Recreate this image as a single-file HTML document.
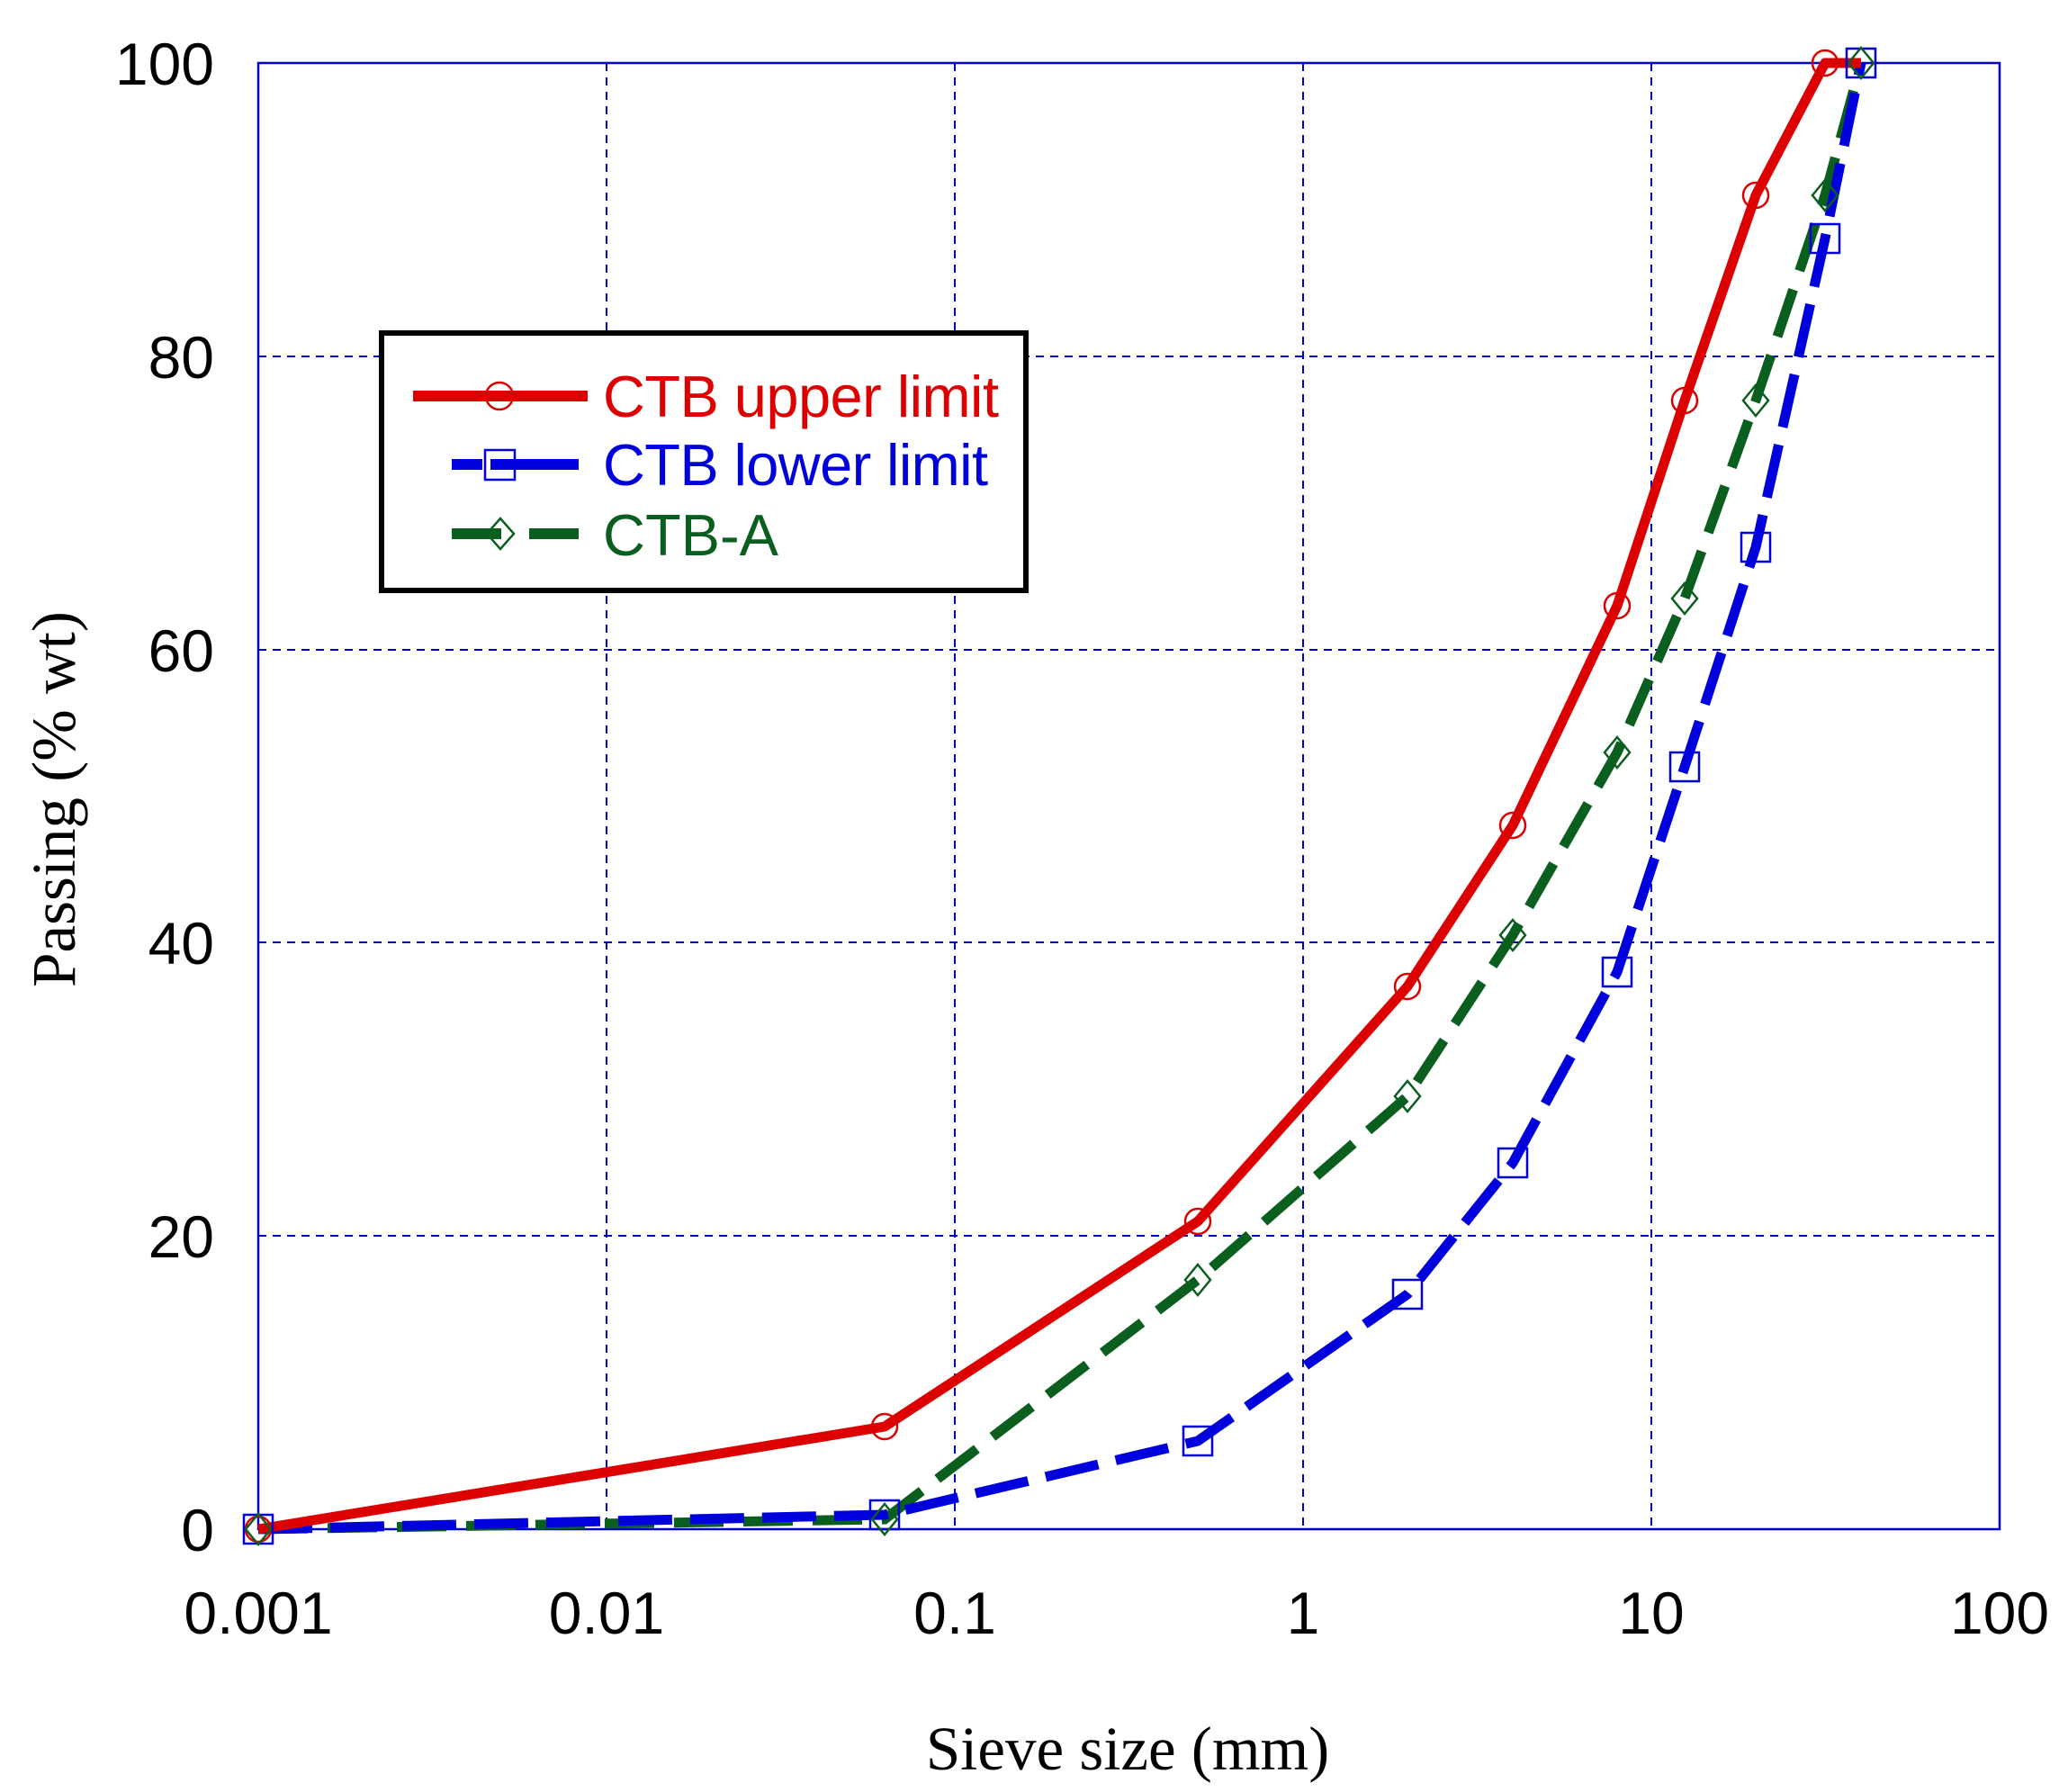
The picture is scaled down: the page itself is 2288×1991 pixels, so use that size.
<!DOCTYPE html>
<html><head><meta charset="utf-8"><style>
html,body{margin:0;padding:0;background:#fff;}
svg{display:block;}
</style></head><body>
<svg width="2288" height="1991" viewBox="0 0 2288 1991" xmlns="http://www.w3.org/2000/svg">
<rect width="2288" height="1991" fill="#fff"/>
<!-- grid -->
<g stroke="#0000cc" stroke-width="2" stroke-dasharray="9,7" fill="none">
<line x1="674" y1="70" x2="674" y2="1699"/>
<line x1="1061" y1="70" x2="1061" y2="1699"/>
<line x1="1448" y1="70" x2="1448" y2="1699"/>
<line x1="1835" y1="70" x2="1835" y2="1699"/>
<line x1="287" y1="396" x2="2222" y2="396"/>
<line x1="287" y1="722" x2="2222" y2="722"/>
<line x1="287" y1="1047" x2="2222" y2="1047"/>
<line x1="287" y1="1373" x2="2222" y2="1373"/>
</g>
<rect x="287" y="70" width="1935" height="1629" fill="none" stroke="#0000cc" stroke-width="2.5"/>
<!-- tick labels -->
<g font-family="Liberation Sans, sans-serif" font-size="66" fill="#000">
<g text-anchor="end">
<text x="238" y="94">100</text>
<text x="238" y="420">80</text>
<text x="238" y="746">60</text>
<text x="238" y="1071">40</text>
<text x="238" y="1397">20</text>
<text x="238" y="1723">0</text>
</g>
<g text-anchor="middle">
<text x="287" y="1815">0.001</text>
<text x="674" y="1815">0.01</text>
<text x="1061" y="1815">0.1</text>
<text x="1448" y="1815">1</text>
<text x="1835" y="1815">10</text>
<text x="2222" y="1815">100</text>
</g>
</g>
<g font-family="Liberation Serif, serif" font-size="69" fill="#000">
<text x="1253" y="1966" text-anchor="middle">Sieve size (mm)</text>
<text transform="translate(83,888) rotate(-90)" text-anchor="middle">Passing (% wt)</text>
</g>
<!-- series -->
<polyline fill="none" stroke="#0a5f1e" stroke-width="11" stroke-dasharray="55,22" points="287,1699 983,1688 1331,1422 1564,1218 1681,1039 1797,836 1872,665 1951,445 2028,217 2068,70"/>
<polyline fill="none" stroke="#0000dd" stroke-width="11" stroke-dasharray="60,20" points="287,1699 983,1683 1331,1601 1564,1438 1681,1292 1797,1080 1872,852 1951,608 2028,265 2068,70"/>
<polyline fill="none" stroke="#dd0000" stroke-width="11" stroke-linejoin="round" points="287,1699 983,1585 1331,1357 1564,1096 1681,917 1797,673 1872,445 1951,217 2028,70 2068,70"/>
<!-- markers -->
<g fill="none" stroke="#dd0000" stroke-width="2.5">
<circle cx="287" cy="1699" r="14"/><circle cx="983" cy="1585" r="14"/><circle cx="1331" cy="1357" r="14"/><circle cx="1564" cy="1096" r="14"/><circle cx="1681" cy="917" r="14"/><circle cx="1797" cy="673" r="14"/><circle cx="1872" cy="445" r="14"/><circle cx="1951" cy="217" r="14"/><circle cx="2028" cy="70" r="14"/>
</g>
<g fill="none" stroke="#0000dd" stroke-width="2.5">
<rect x="271" y="1683" width="32" height="32"/><rect x="967" y="1667" width="32" height="32"/><rect x="1315" y="1585" width="32" height="32"/><rect x="1548" y="1422" width="32" height="32"/><rect x="1665" y="1276" width="32" height="32"/><rect x="1781" y="1064" width="32" height="32"/><rect x="1856" y="836" width="32" height="32"/><rect x="1935" y="592" width="32" height="32"/><rect x="2012" y="249" width="32" height="32"/><rect x="2052" y="54" width="32" height="32"/>
</g>
<g fill="none" stroke="#0a5f1e" stroke-width="2.5">
<path d="M287,1682 l14,17 l-14,17 l-14,-17z"/>
<path d="M983,1671 l14,17 l-14,17 l-14,-17z"/>
<path d="M1331,1405 l14,17 l-14,17 l-14,-17z"/>
<path d="M1564,1201 l14,17 l-14,17 l-14,-17z"/>
<path d="M1681,1022 l14,17 l-14,17 l-14,-17z"/>
<path d="M1797,819 l14,17 l-14,17 l-14,-17z"/>
<path d="M1872,648 l14,17 l-14,17 l-14,-17z"/>
<path d="M1951,428 l14,17 l-14,17 l-14,-17z"/>
<path d="M2028,200 l14,17 l-14,17 l-14,-17z"/>
<path d="M2068,53 l14,17 l-14,17 l-14,-17z"/>
</g>
<!-- legend -->
<rect x="424" y="370" width="716" height="286" fill="#fff" stroke="#000" stroke-width="6"/>
<line x1="459" y1="440" x2="653" y2="440" stroke="#dd0000" stroke-width="12"/>
<circle cx="555" cy="440" r="15" fill="none" stroke="#dd0000" stroke-width="2.5"/>
<line x1="502" y1="516" x2="536" y2="516" stroke="#0000dd" stroke-width="12"/>
<line x1="545" y1="516" x2="643" y2="516" stroke="#0000dd" stroke-width="12"/>
<rect x="539" y="500" width="33" height="33" fill="none" stroke="#0000dd" stroke-width="2.5"/>
<line x1="502" y1="593" x2="557" y2="593" stroke="#0a5f1e" stroke-width="12"/>
<line x1="588" y1="593" x2="643" y2="593" stroke="#0a5f1e" stroke-width="12"/>
<path d="M556,576 l15,17 l-15,17 l-15,-17z" fill="none" stroke="#0a5f1e" stroke-width="2.5"/>
<g font-family="Liberation Sans, sans-serif" font-size="65">
<text x="670" y="463" fill="#dd0000" textLength="440">CTB upper limit</text>
<text x="670" y="539" fill="#0000dd" textLength="428">CTB lower limit</text>
<text x="670" y="617" fill="#0a5f1e">CTB-A</text>
</g>
</svg>
</body></html>
